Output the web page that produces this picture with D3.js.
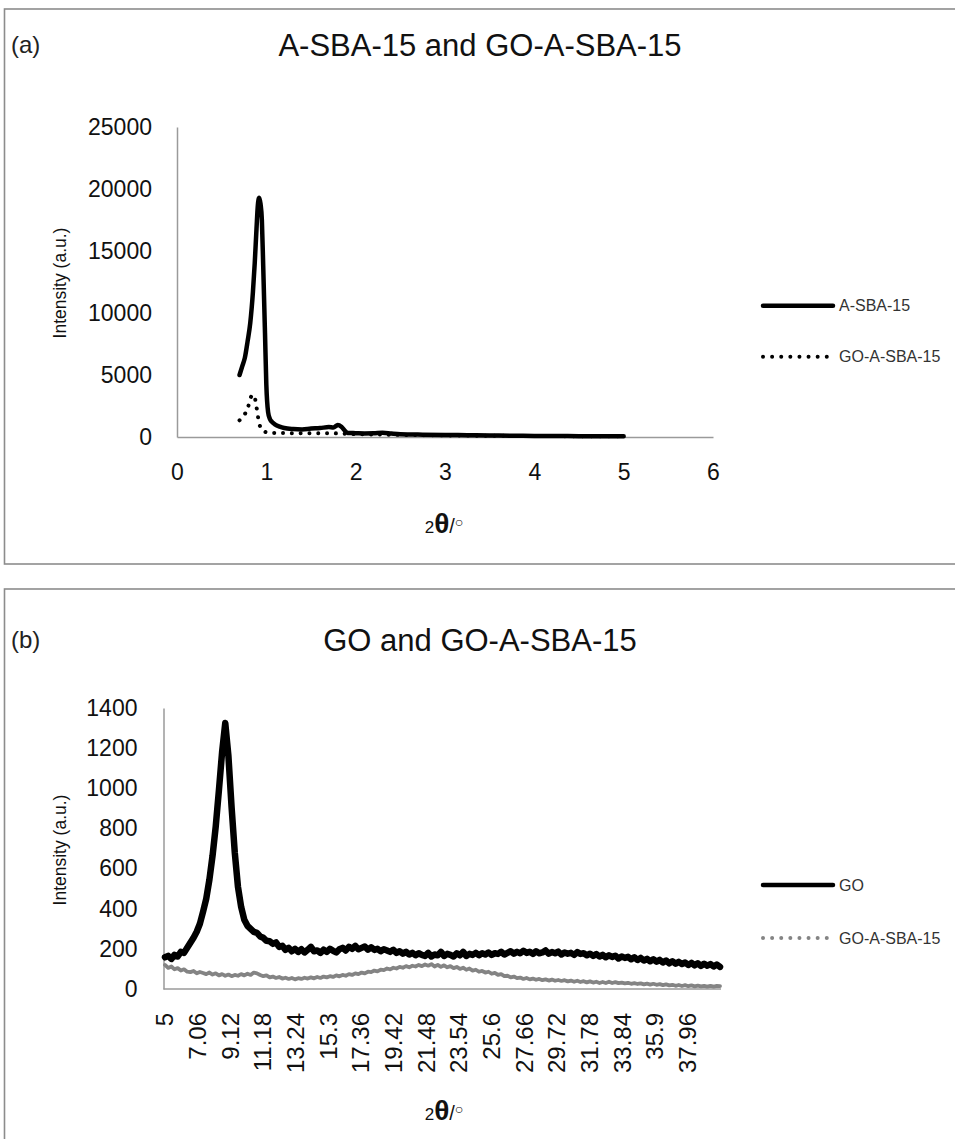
<!DOCTYPE html>
<html>
<head>
<meta charset="utf-8">
<script src="https://cdn.jsdelivr.net/npm/d3@7"></script>
<style>
  html, body { margin: 0; padding: 0; background: #fff; }
  svg { display: block; font-family: "Liberation Sans", Arial, sans-serif; }
</style>
</head>
<body>
<svg id="chart" width="955" height="1139"></svg>
<script>
// ---------- Panel (a): low-angle patterns ----------
const sbaAngles = [0.70, 0.73, 0.76, 0.79, 0.82, 0.85, 0.87, 0.89, 0.905, 0.92, 0.935, 0.95, 0.965, 0.985, 1.00, 1.02, 1.04, 1.06, 1.10, 1.15, 1.20, 1.30, 1.40, 1.50, 1.60, 1.70, 1.75, 1.80, 1.84, 1.88, 1.91, 2.00, 2.10, 2.20, 2.30, 2.40, 2.50, 2.75, 3.00, 3.25, 3.50, 3.75, 4.00, 4.25, 4.50, 4.75, 5.00];
const sbaIntensity = [5000, 5700, 6400, 7700, 9200, 11700, 14000, 16800, 18700, 19300, 18800, 17500, 13800, 8400, 4200, 2000, 1450, 1240, 1000, 840, 730, 640, 610, 680, 720, 800, 760, 960, 820, 500, 330, 310, 290, 300, 340, 280, 230, 190, 170, 150, 120, 105, 90, 80, 70, 60, 55];

const goSbaLowAngles = [0.70, 0.73, 0.76, 0.79, 0.82, 0.85, 0.87, 0.885, 0.90, 0.915, 0.93, 0.95, 0.98, 1.05, 1.20, 1.40, 1.60, 1.80, 2.00, 2.25, 2.50, 3.00, 3.50, 4.00, 4.50, 5.00];
const goSbaLowIntensity = [1350, 1600, 1860, 2250, 3100, 3400, 3200, 2650, 1950, 1250, 850, 550, 420, 340, 320, 300, 310, 290, 230, 200, 170, 130, 100, 80, 65, 50];

const aXTicks = [0, 1, 2, 3, 4, 5, 6];
const aYTicks = [0, 5000, 10000, 15000, 20000, 25000];
const aSeriesNames = ["A-SBA-15", "GO-A-SBA-15"];

// ---------- Panel (b): wide-angle patterns, sampled every 0.2° from 5° ----------
const wideStart = 5;
const wideStep = 0.2;
const goIntensity = [
  158, 165, 150, 170, 162, 185, 180, 205, 230, 255,
  285, 325, 385, 450, 545, 665, 810, 990, 1180, 1325,
  1160, 905, 680, 510, 410, 345, 315, 300, 285, 280,
  262, 255, 240, 238, 225, 232, 210, 215, 195, 205,
  188, 200, 185, 198, 182, 195, 210, 188, 192, 180,
  196, 185, 200, 190, 182, 198, 205, 192, 210, 200,
  215, 198, 205, 212, 196, 208, 195, 200, 188, 198,
  192, 185, 195, 180, 188, 176, 185, 172, 180, 168,
  178, 170, 165, 180, 162, 172, 168, 185, 165, 175,
  170, 162, 178, 168, 185, 165, 175, 170, 180, 168,
  178, 172, 182, 170, 178, 175, 185, 172, 180, 188,
  176, 185, 178, 190, 180, 185, 175, 188, 178, 182,
  192, 176, 184, 178, 186, 172, 182, 176, 180, 170,
  184, 175, 178, 168, 176, 165, 174, 162, 170, 158,
  168, 160, 166, 152, 162, 155, 160, 148, 158, 145,
  155, 142, 150, 138, 148, 136, 145, 132, 142, 128,
  138, 126, 135, 125, 132, 120, 130, 118, 128, 115,
  126, 116, 124, 112, 122, 110
];
const goSbaWideIntensity = [
  120, 105, 112, 98, 104, 92, 98, 86, 84, 90,
  78, 85, 80, 74, 82, 72, 78, 68, 74, 66,
  72, 64, 70, 66, 74, 68, 76, 70, 82, 78,
  70, 64, 68, 58, 62, 55, 60, 52, 56, 50,
  55, 48, 54, 50, 56, 52, 58, 53, 60, 55,
  62, 58, 64, 60, 68, 63, 70, 66, 74, 70,
  78, 74, 82, 78, 86, 84, 92, 88, 96, 94,
  102, 98, 106, 102, 110, 106, 114, 108, 116, 112,
  120, 114, 122, 116, 124, 112, 120, 110, 118, 108,
  114, 104, 110, 100, 106, 96, 102, 92, 96, 86,
  90, 82, 86, 76, 80, 70, 74, 64, 66, 58,
  62, 54, 57, 50, 55, 48, 52, 46, 50, 44,
  48, 42, 47, 41, 45, 40, 44, 38, 42, 36,
  41, 35, 39, 33, 38, 32, 36, 30, 35, 30,
  36, 30, 34, 29, 32, 28, 31, 26, 29, 25,
  28, 23, 27, 22, 26, 21, 24, 19, 23, 18,
  21, 16, 20, 15, 19, 14, 18, 13, 17, 13,
  16, 12, 16, 12, 15, 14
];
const bXTickLabels = ["5", "7.06", "9.12", "11.18", "13.24", "15.3", "17.36", "19.42", "21.48", "23.54", "25.6", "27.66", "29.72", "31.78", "33.84", "35.9", "37.96"];
const bYTicks = [0, 200, 400, 600, 800, 1000, 1200, 1400];
const bSeriesNames = ["GO", "GO-A-SBA-15"];

// ---------- drawing ----------
const svg = d3.select("#chart");
const frameColor = "#8c8c8c";
const axisColor = "#9a9a9a";
const tickFont = 23;

function frame(y, h) {
  svg.append("rect")
    .attr("x", 4.5).attr("y", y)
    .attr("width", 1000).attr("height", h)
    .attr("fill", "none").attr("stroke", frameColor).attr("stroke-width", 1.6);
}

function headings(tag, title, y, yLabelCenter) {
  svg.append("text").attr("x", 11).attr("y", y + 8)
    .attr("font-size", 24).attr("fill", "#222").text(tag);
  svg.append("text").attr("x", 480).attr("y", y + 11)
    .attr("text-anchor", "middle").attr("font-size", 31).attr("fill", "#111").text(title);
  svg.append("text")
    .attr("transform", `translate(66,${yLabelCenter}) rotate(-90)`)
    .attr("text-anchor", "middle").attr("font-size", 17.5).attr("fill", "#111")
    .text("Intensity (a.u.)");
}

function thetaTitle(cx, baseline) {
  const t = svg.append("text").attr("x", cx).attr("y", baseline)
    .attr("text-anchor", "middle").attr("fill", "#111");
  t.append("tspan").attr("font-size", 17).text("2");
  t.append("tspan").attr("font-size", 28).attr("font-weight", "bold").text("θ");
  t.append("tspan").attr("font-size", 20).text("/");
  t.append("tspan").attr("font-size", 14).attr("dy", -6).text("○");
}

function legend(x, y1, y2, names, solidColor, dotColor) {
  const g = svg.append("g");
  g.append("line").attr("x1", x).attr("x2", x + 70).attr("y1", y1).attr("y2", y1)
    .attr("stroke", solidColor).attr("stroke-width", 4.5).attr("stroke-linecap", "round");
  g.append("line").attr("x1", x).attr("x2", x + 67).attr("y1", y2).attr("y2", y2)
    .attr("stroke", dotColor).attr("stroke-width", 4).attr("stroke-linecap", "round")
    .attr("stroke-dasharray", "0.01 9.1");
  g.append("text").attr("x", x + 76).attr("y", y1).attr("dy", "0.35em")
    .attr("font-size", 16).attr("fill", "#333").text(names[0]);
  g.append("text").attr("x", x + 76).attr("y", y2).attr("dy", "0.35em")
    .attr("font-size", 16).attr("fill", "#333").text(names[1]);
}

// ---- panel (a)
frame(9, 555);
headings("(a)", "A-SBA-15 and GO-A-SBA-15", 45, 283);

const xa = d3.scaleLinear().domain([0, 6]).range([177, 713]);
const ya = d3.scaleLinear().domain([0, 25000]).range([437, 127]);

const gaY = svg.append("g").attr("transform", `translate(${xa(0)},0)`)
  .call(d3.axisLeft(ya).tickValues(aYTicks).tickSize(0).tickPadding(25).tickFormat(d3.format("d")));
const gaX = svg.append("g").attr("transform", `translate(0,${ya(0)})`)
  .call(d3.axisBottom(xa).tickValues(aXTicks).tickSize(0).tickPadding(27).tickFormat(d3.format("d")));
[gaY, gaX].forEach(g => {
  g.select(".domain").attr("stroke", axisColor).attr("stroke-width", 1.5);
  g.selectAll("text").attr("font-size", tickFont).attr("fill", "#111").attr("font-family", "Liberation Sans, Arial, sans-serif");
});

const lineA = d3.line().curve(d3.curveMonotoneX)
  .x(d => xa(d[0])).y(d => ya(d[1]));

svg.append("path")
  .datum(d3.zip(goSbaLowAngles, goSbaLowIntensity))
  .attr("d", lineA).attr("fill", "none").attr("stroke", "#000")
  .attr("stroke-width", 4).attr("stroke-linecap", "round")
  .attr("stroke-dasharray", "0.01 8.8");
svg.append("path")
  .datum(d3.zip(sbaAngles, sbaIntensity))
  .attr("d", lineA).attr("fill", "none").attr("stroke", "#000")
  .attr("stroke-width", 4.5).attr("stroke-linejoin", "round").attr("stroke-linecap", "round");

legend(763, 305.7, 356.7, aSeriesNames, "#000", "#000");
thetaTitle(444, 533);

// ---- panel (b)
frame(589, 600);
headings("(b)", "GO and GO-A-SBA-15", 640, 850);

const wideAngles = goIntensity.map((_, i) => +(wideStart + i * wideStep).toFixed(2));
const xb = d3.scaleLinear().domain([5, 40]).range([165, 720]);
const yb = d3.scaleLinear().domain([0, 1400]).range([989, 708]);

const gbY = svg.append("g").attr("transform", `translate(163.5,0)`)
  .call(d3.axisLeft(yb).tickValues(bYTicks).tickSize(0).tickPadding(26).tickFormat(d3.format("d")));
gbY.select(".domain").attr("stroke", axisColor).attr("stroke-width", 1.5);
gbY.selectAll("text").attr("font-size", tickFont).attr("fill", "#111").attr("font-family", "Liberation Sans, Arial, sans-serif");

svg.append("line").attr("x1", 163.5).attr("x2", 721).attr("y1", yb(0)).attr("y2", yb(0))
  .attr("stroke", axisColor).attr("stroke-width", 1.5);

svg.append("g").selectAll("text").data(bXTickLabels).join("text")
  .attr("transform", d => `translate(${xb(+d)},1013) rotate(-90)`)
  .attr("text-anchor", "end").attr("dy", "0.35em")
  .attr("font-size", tickFont + 1).attr("fill", "#111").text(d => d);

const lineB = d3.line().x(d => xb(d[0])).y(d => yb(d[1]));

svg.append("path")
  .datum(d3.zip(wideAngles, goSbaWideIntensity))
  .attr("d", lineB).attr("fill", "none").attr("stroke", "#848484")
  .attr("stroke-width", 3.8).attr("stroke-linejoin", "round").attr("stroke-linecap", "round");
svg.append("path")
  .datum(d3.zip(wideAngles, goIntensity))
  .attr("d", lineB).attr("fill", "none").attr("stroke", "#000")
  .attr("stroke-width", 6.5).attr("stroke-linejoin", "round").attr("stroke-linecap", "round");

legend(763, 885, 938, bSeriesNames, "#000", "#848484");
thetaTitle(444, 1120);
</script>
</body>
</html>
